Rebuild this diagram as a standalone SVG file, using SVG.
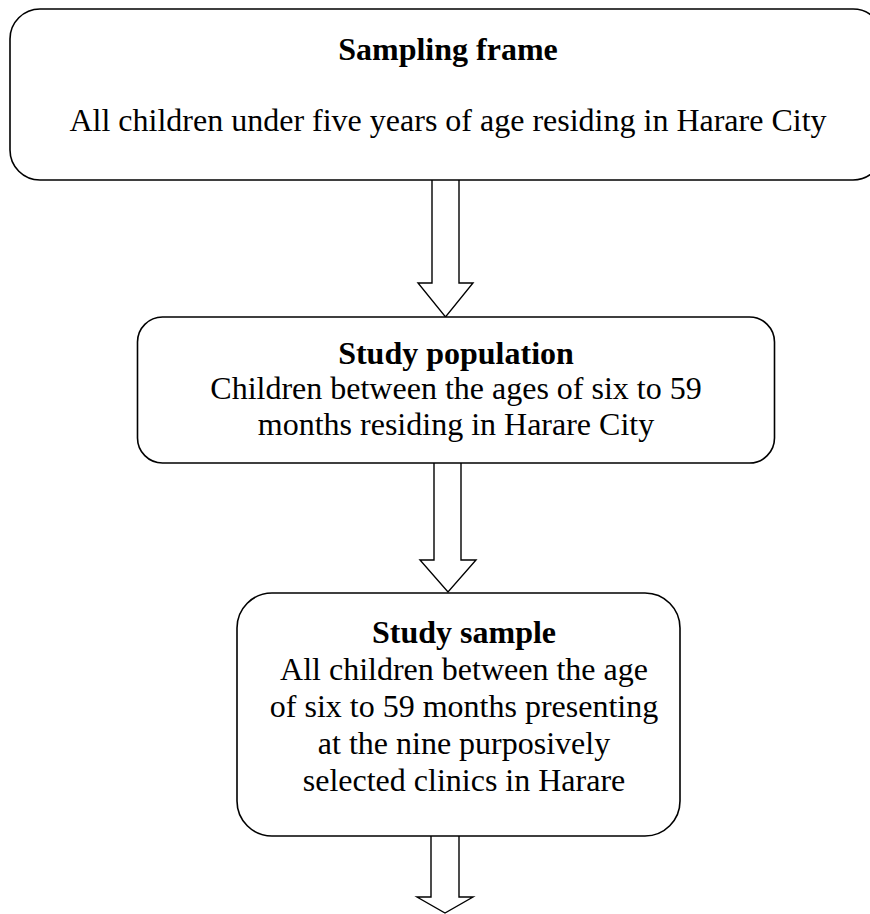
<svg xmlns="http://www.w3.org/2000/svg" width="870" height="914" viewBox="0 0 870 914">
<style>
.box{fill:#fff;stroke:#000;stroke-width:1.6}
.arr{fill:#fff;stroke:#000;stroke-width:1.4;stroke-linejoin:miter}
text{font-family:"Liberation Serif","Times New Roman",serif;fill:#000;text-anchor:middle;font-size:32px}
.b{font-weight:bold}
</style>
<rect width="870" height="914" fill="#fff"/>
<g id="connectors">
<path class="arr" d="M432,180 V283 H418 L445.5,317 L473,283 H459 V180"/>
<path class="arr" d="M434,463 V560 H420 L448,592 L476,560 H461 V463"/>
<path class="arr" d="M431,836 V897 H417 L445,913 L473,897 H459 V836"/>
</g>
<g id="sampling-frame">
<rect class="box" x="10" y="9" width="873" height="171" rx="30" ry="30"/>
<text class="b" x="448" y="60">Sampling frame</text>
<text x="448" y="131">All children under five years of age residing in Harare City</text>
</g>
<g id="study-population">
<rect class="box" x="137.5" y="317" width="637" height="146" rx="25" ry="25"/>
<text class="b" x="456" y="364">Study population</text>
<text x="456" y="399">Children between the ages of six to 59</text>
<text x="456" y="435">months residing in Harare City</text>
</g>
<g id="study-sample">
<rect class="box" x="237" y="593" width="443" height="243" rx="35" ry="35"/>
<text class="b" x="464" y="643">Study sample</text>
<text x="464" y="680">All children between the age</text>
<text x="464" y="717">of six to 59 months presenting</text>
<text x="464" y="754">at the nine purposively</text>
<text x="464" y="791">selected clinics in Harare</text>
</g>
</svg>
